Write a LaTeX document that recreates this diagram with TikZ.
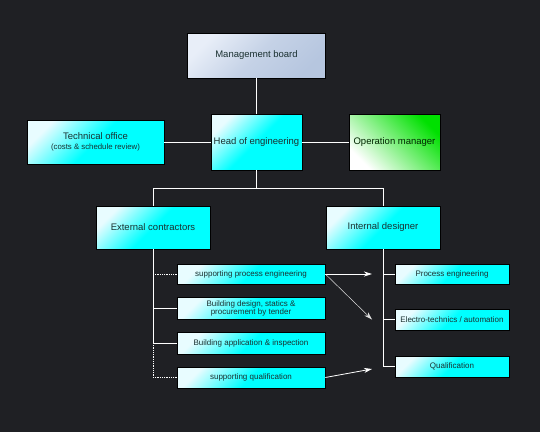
\documentclass[tikz,border=0pt]{standalone}
\usepackage{fontspec}
\setmainfont{Liberation Sans}
\usetikzlibrary{arrows.meta}
\definecolor{bg}{HTML}{1F2024}
\definecolor{txt}{HTML}{1A3030}
\definecolor{cyanb}{HTML}{00FFFF}
\definecolor{cyanl}{HTML}{E8FCFF}
\definecolor{mbdark}{HTML}{B6C6DF}
\definecolor{mblight}{HTML}{E8EEF8}
\definecolor{grn}{HTML}{00E000}
\tikzset{
  box/.style={rectangle, draw=black, line width=0.6pt, inner sep=1pt, align=center,
    text=txt, font=\fontsize{9.5}{11}\selectfont,
    top color=cyanl, bottom color=cyanb, middle color=cyanb, shading angle=45},
  subbox/.style={box, font=\fontsize{8}{9.5}\selectfont},
  mbbox/.style={box, top color=mblight, bottom color=mbdark, middle color=mbdark!70!mblight, shading angle=45},
  grbox/.style={box, top color=grn, middle color=grn, bottom color=white, shading angle=-45, text=black!85!green},
  conn/.style={draw=white, line width=0.8pt},
  dotconn/.style={draw=white, line width=0.8pt, densely dotted},
  arr/.style={draw=white, line width=0.8pt, -{Stealth[length=8pt,width=5pt,inset=2.5pt]}},
  thinarr/.style={draw=white!75!gray, line width=0.5pt, -{Stealth[length=8pt,width=5pt,inset=2.5pt]}}
}
\begin{document}
\begin{tikzpicture}[x=1pt,y=-1pt]
\path[fill=bg] (0,0) rectangle (540,432);
\useasboundingbox (0,0) rectangle (540,432);

\node[mbbox, minimum width=138pt, minimum height=45pt] (mb) at (256.5,55.5) {Management board};
\node[box, minimum width=91pt, minimum height=56pt] (hoe) at (256.5,142) {Head of engineering};
\node[box, minimum width=137pt, minimum height=44pt] (to) at (95.5,142) {Technical office\\[-0.5pt]{\fontsize{7.8}{9}\selectfont (costs \& schedule review)}};
\node[grbox, minimum width=91pt, minimum height=56pt] (om) at (394.5,142) {Operation manager};

\node[box, minimum width=114pt, minimum height=43pt] (ec) at (153,227.5) {External contractors};
\node[box, minimum width=114pt, minimum height=43pt] (id) at (383,227.5) {Internal designer};

\node[subbox, minimum width=148pt, minimum height=20pt] (spe) at (251,274) {supporting process engineering};
\node[subbox, minimum width=148pt, minimum height=22pt] (bd) at (251,308) {Building design, statics \&\\[-1.5pt]procurement by tender};
\node[subbox, minimum width=148pt, minimum height=22pt] (ba) at (251,343) {Building application \& inspection};
\node[subbox, minimum width=148pt, minimum height=21pt] (sq) at (251,377.5) {supporting qualification};

\node[subbox, minimum width=114pt, minimum height=20pt] (pe) at (452,274) {Process engineering};
\node[subbox, minimum width=114pt, minimum height=21pt] (el) at (452,319.5) {Electro-technics / automation};
\node[subbox, minimum width=114pt, minimum height=21pt] (q) at (452,366.5) {Qualification};

\coordinate (busy) at (0,188);
\coordinate (a1) at (372,274);
\coordinate (a2) at (372,319.5);
\coordinate (a3) at (372,369);

\path[conn] (mb.south) -- (hoe.north);
\path[conn] (to.east) -- (hoe.west);
\path[conn] (hoe.east) -- (om.west);
\path[conn] (hoe.south) -- (hoe.south |- busy);
\path[conn] (ec.north) -- (ec.north |- busy) -- (id.north |- busy) -- (id.north);

% left bus
\path[conn] (ec.south) -- (ec.south |- ba.west);
\path[dotconn] (ec.south |- ba.west) -- (ec.south |- sq.west);
\path[dotconn] (ec.south |- spe.west) -- (spe.west);
\path[conn] (ec.south |- bd.west) -- (bd.west);
\path[conn] (ec.south |- ba.west) -- (ba.west);
\path[dotconn] (ec.south |- sq.west) -- (sq.west);

% right bus
\path[conn] (id.south) -- (id.south |- q.west) -- (q.west);
\path[conn] (id.south |- pe.west) -- (pe.west);
\path[conn] (id.south |- el.west) -- (el.west);

% arrows
\path[arr] (spe.east) -- (a1);
\path[thinarr] (spe.east) -- (a2);
\path[arr] (sq.east) -- (a3);
\end{tikzpicture}
\end{document}
